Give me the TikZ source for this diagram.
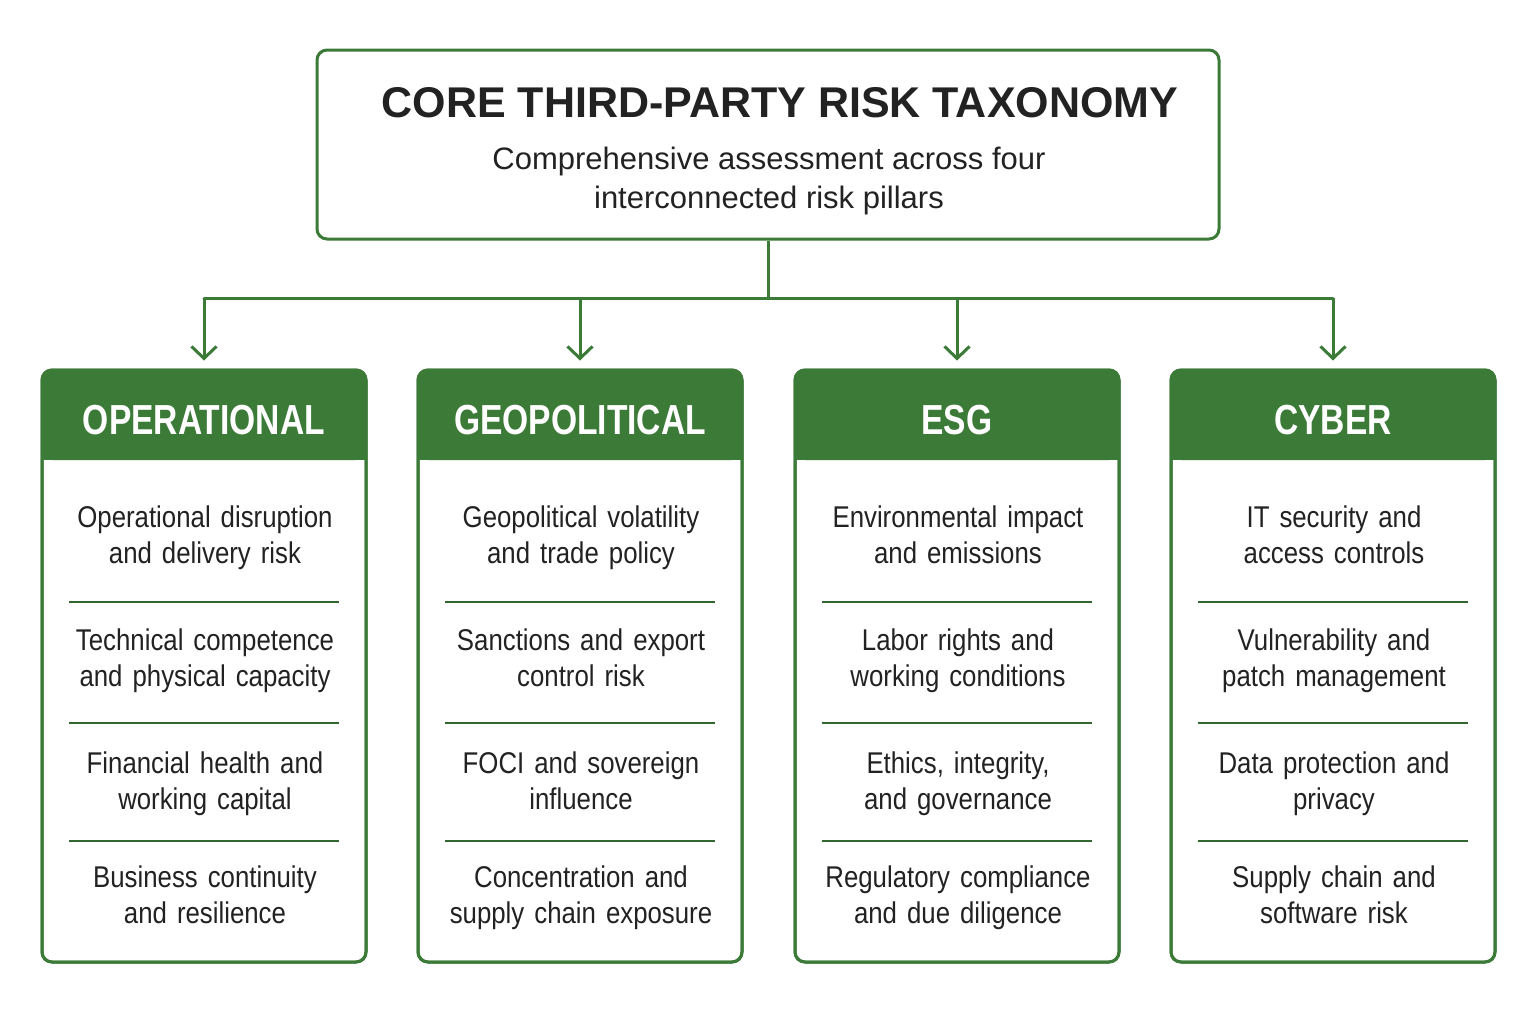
\documentclass[tikz,border=0pt]{standalone}
\usepackage{fontspec}
\setmainfont{Liberation Sans}
\newfontfamily\bodyf[FakeStretch=0.86]{Liberation Sans}
\newfontfamily\headf[FakeStretch=0.80]{Liberation Sans}
\usetikzlibrary{arrows.meta}
\definecolor{pgreen}{HTML}{3B7A37}
\definecolor{ink}{HTML}{222222}
\tikzset{
  titlebox/.style={draw=pgreen, line width=3pt, rounded corners=10pt, fill=white,
    minimum width=902pt, minimum height=189pt, inner sep=0pt},
  colbox/.style={draw=pgreen, line width=3pt, rounded corners=10pt,
    minimum width=324pt, minimum height=592pt, inner sep=0pt},
  headtext/.style={text=white, font=\headf\bfseries\fontsize{42}{46}\selectfont},
  itemtext/.style={text=ink, align=center, text width=300pt, inner sep=0pt,
    font=\bodyf\fontsize{30}{36}\selectfont,
    execute at begin node=\strut, execute at end node=\strut},
  link/.style={draw=pgreen, line width=3pt},
  arrowlink/.style={link, -{Straight Barb[length=12pt,width=25pt,line width=3pt]}, shorten >=8pt},
  sepline/.style={draw=pgreen!85!black, line width=2pt}
}
\begin{document}
\begin{tikzpicture}[x=1pt,y=-1pt]
\useasboundingbox (0,0) rectangle (1535,1010);
\fill[white] (0,0) rectangle (1535,1010);

% title
\node[titlebox] (title) at (768,144.5) {};
\node[text=ink, font=\bfseries\fontsize{43}{48}\selectfont, inner sep=0pt] (ttl) at (780,103) {CORE THIRD-PARTY RISK TAXONOMY};
\node[text=ink, align=center, inner sep=0pt, font=\fontsize{31}{39}\selectfont] (sub) at (769,181) {Comprehensive assessment across four\\interconnected risk pillars};

% columns
\foreach \cx/\nm/\hd/\ia/\ib/\ic/\id in {
  204/c1/OPERATIONAL/{Operational disruption\\and delivery risk}/{Technical competence\\and physical capacity}/{Financial health and\\working capital}/{Business continuity\\and resilience},
  580/c2/GEOPOLITICAL/{Geopolitical volatility\\and trade policy}/{Sanctions and export\\control risk}/{FOCI and sovereign\\influence}/{Concentration and\\supply chain exposure},
  957/c3/ESG/{Environmental impact\\and emissions}/{Labor rights and\\working conditions}/{Ethics, integrity,\\and governance}/{Regulatory compliance\\and due diligence},
  1333/c4/CYBER/{IT security and\\access controls}/{Vulnerability and\\patch management}/{Data protection and\\privacy}/{Supply chain and\\software risk}}
{
  \node[colbox, fill=white] (\nm) at (\cx,666) {};
  \fill[pgreen, rounded corners=10pt] (\cx-162,370) rectangle (\cx+162,460);
  \fill[pgreen] (\cx-162,430) rectangle (\cx+162,460);
  \node[colbox] at (\cx,666) {};
  \node[headtext] (\nm h) at (\cx,420) {\hd};
  \node[itemtext] (\nm i1) at (\cx+1,538) {\ia};
  \node[itemtext] (\nm i2) at (\cx+1,661) {\ib};
  \node[itemtext] (\nm i3) at (\cx+1,784) {\ic};
  \node[itemtext] (\nm i4) at (\cx+1,898) {\id};
  \draw[sepline] (\cx-135,602) -- (\cx+135,602);
  \draw[sepline] (\cx-135,723) -- (\cx+135,723);
  \draw[sepline] (\cx-135,841) -- (\cx+135,841);
}

% connectors
\coordinate (bus) at (768,298);
\draw[link] (title.south) -- (bus);
\draw[link, line cap=round] (c1.north |- bus) -- (c4.north |- bus);
\foreach \nm in {c1,c2,c3,c4}
  \draw[arrowlink] (\nm.north |- bus) -- (\nm.north);
\end{tikzpicture}
\end{document}
